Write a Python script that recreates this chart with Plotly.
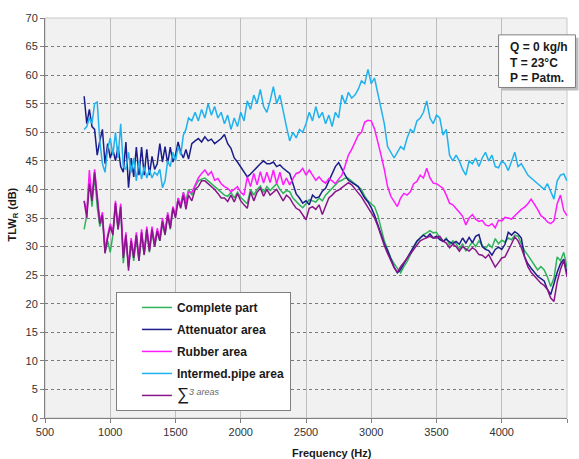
import plotly.graph_objects as go

# Frequency samples: 20 Hz spacing up to 1600 Hz, 25 Hz spacing above
freq_low = list(range(800, 1601, 20))
freq_high = list(range(1625, 4501, 25))
frequency_hz = freq_low + freq_high

# ---- Complete part ----
complete_low = [
    33.0, 35.5, 42.0, 37.0, 42.5, 37.0, 33.5, 35.0, 29.0, 31.0,
    29.0, 32.0, 37.0, 33.0, 36.5, 27.1, 31.5, 26.5, 30.5, 27.5,
    31.5, 27.5, 32.0, 28.5, 32.5, 29.0, 32.5, 30.0, 32.5, 31.0,
    34.0, 32.0, 35.5, 33.0, 36.5, 35.5, 38.5, 37.0, 39.5, 38.0,
    40.0,
]
complete_high = [
    39.0, 40.5, 41.5, 41.8,  42.0, 41.5, 41.0, 40.5,  40.0, 39.5, 39.0, 38.8,
    39.5, 38.5, 39.5, 38.6,  38.0, 37.5, 40.0, 39.0,  40.0, 40.6, 39.5, 40.5,
    39.8, 40.5, 41.0, 40.0,  39.3, 39.8, 39.6, 38.5,  37.8, 37.3, 36.8, 37.5,
    38.2, 38.0, 37.8, 38.5,  38.0, 39.0, 39.6, 40.2,  40.8, 41.4, 41.6, 42.0,
    41.9, 41.5, 41.0, 40.5,  40.0, 38.8, 38.0, 37.5,  37.0, 35.5, 33.2, 31.0,
    29.5, 28.0, 27.0, 26.3,  25.4, 26.5, 27.4, 28.6,  29.8, 30.8, 31.5, 32.1,
    32.4, 32.8, 32.4, 32.5,  31.5, 30.9, 31.5, 30.3,  31.0, 30.5, 29.5, 30.5,
    29.2, 30.0, 30.8, 30.0,  31.0, 30.2, 29.6, 30.4,  29.8, 31.4, 30.5, 31.1,
    30.8, 31.5, 31.2, 32.0,  31.8, 30.5, 29.3, 28.5,  27.6, 26.8, 25.9, 26.5,
    25.9, 24.7, 23.0, 24.5,  28.2, 27.5, 29.0, 26.4,
]

# ---- Attenuator area ----
attenuator_low = [
    56.3, 51.5, 54.0, 51.0, 50.5, 46.0, 48.5, 50.5, 44.5, 48.0,
    45.5, 47.0, 45.0, 47.5, 44.0, 43.0, 48.3, 40.3, 45.5, 42.2,
    47.4, 42.5, 47.4, 42.5, 47.0, 42.5, 45.8, 43.5, 44.5, 48.0,
    44.8, 47.5, 44.5, 47.4, 44.8, 46.0, 48.3, 46.5, 45.5, 47.0,
    45.3,
]
attenuator_high = [
    48.0, 48.5, 48.9, 48.3,  49.2, 48.5, 48.8, 48.0,  48.5, 48.9, 49.6, 48.0,
    47.2, 45.5, 44.8, 44.0,  43.0, 42.2, 42.7, 43.3,  44.0, 44.5, 45.0, 44.5,
    44.5, 44.8, 44.0, 44.3,  43.7, 43.2, 42.8, 41.0,  39.2, 38.5, 37.6, 38.0,
    37.3, 39.0, 38.5, 38.7,  39.7, 40.2, 41.5, 42.6,  44.0, 44.7, 43.5, 42.5,
    41.6, 41.2, 40.8, 40.5,  39.5, 38.5, 37.8, 36.8,  35.5, 33.8, 31.8, 30.5,
    29.3, 27.8, 26.4, 25.4,  26.0, 27.0, 28.0, 29.0,  30.2, 31.0, 31.5, 32.0,
    31.6, 32.2, 31.5, 31.8,  31.2, 30.9, 31.3, 30.8,  30.5, 30.9, 30.4, 31.5,
    30.6, 31.6, 30.7, 31.8,  32.1, 30.0, 29.5, 29.3,  28.5, 29.5, 29.9, 29.5,
    30.4, 32.5, 32.0, 32.6,  32.2, 31.5, 28.2, 27.0,  26.2, 25.5, 24.8, 24.4,
    24.0, 22.5, 21.6, 23.5,  25.5, 27.0, 27.8, 25.3,
]

# ---- Rubber area ----
rubber_low = [
    38.0, 36.0, 43.4, 38.5, 43.5, 38.5, 34.5, 36.0, 29.5, 32.0,
    34.0, 32.5, 38.0, 33.5, 37.5, 28.5, 32.5, 26.5, 31.5, 28.5,
    32.5, 28.0, 33.0, 29.0, 33.5, 29.5, 33.5, 30.5, 33.2, 31.5,
    35.0, 32.5, 36.0, 33.8, 37.0, 35.5, 38.5, 37.3, 39.5, 37.5,
    39.5,
]
rubber_high = [
    39.5, 40.8, 42.0, 42.8,  43.4, 42.5, 43.1, 41.6,  41.9, 41.0, 40.5, 40.2,
    39.6, 40.0, 40.5, 39.5,  39.0, 42.2, 40.5, 42.8,  40.8, 43.1, 41.1, 43.0,
    41.2, 43.4, 41.0, 43.0,  40.8, 42.0, 40.8, 41.9,  42.8, 43.0, 43.7, 42.5,
    43.4, 42.5, 41.6, 42.2,  41.5, 41.1, 41.9, 41.5,  41.0, 41.8, 42.5, 44.2,
    46.0, 47.0, 48.3, 49.5,  50.0, 51.8, 52.1, 52.0,  50.6, 48.5, 46.0, 43.5,
    40.5, 38.8, 37.8, 37.0,  38.5, 39.3, 39.0, 39.6,  41.0, 41.4, 42.5, 42.0,
    43.7, 42.0, 41.1, 41.0,  40.6, 40.2, 39.0, 37.6,  37.3, 36.7, 36.0, 35.3,
    33.8, 35.0, 35.6, 34.8,  34.4, 34.6, 33.8, 33.6,  34.0, 33.3, 34.6, 34.5,
    35.1, 35.0, 34.8, 35.4,  36.0, 36.5, 36.9, 37.5,  38.3, 37.5, 36.5, 35.4,
    35.0, 34.3, 34.0, 34.5,  37.5, 39.0, 36.3, 35.4,
]

# ---- Intermediate pipe area ----
pipe_low = [
    50.5, 51.0, 52.5, 51.5, 55.0, 55.3, 48.5, 44.5, 43.0, 47.0,
    49.0, 46.0, 50.0, 45.5, 51.5, 44.0, 43.5, 46.5, 43.0, 45.5,
    41.5, 45.0, 41.8, 44.0, 42.0, 43.5, 42.0, 43.0, 42.5, 43.5,
    40.3, 41.5, 45.0, 44.0, 46.5, 45.0, 47.5, 46.0, 49.5, 50.5,
    52.5,
]
pipe_high = [
    52.0, 53.5, 52.0, 54.0,  52.5, 55.0, 53.0, 54.5,  52.5, 53.5, 51.5, 53.0,
    50.5, 52.5, 51.0, 53.5,  52.0, 55.5, 54.0, 56.5,  55.0, 57.5, 54.5, 53.5,
    55.5, 58.0, 55.0, 56.5,  53.5, 51.0, 48.5, 50.0,  49.0, 50.5, 50.0, 51.5,
    53.5, 52.0, 54.5, 52.5,  53.5, 51.5, 53.0, 51.0,  53.5, 52.5, 56.5, 55.0,
    57.0, 56.0, 56.5, 57.5,  59.0, 58.5, 61.0, 58.5,  59.5, 57.0, 54.5, 51.5,
    47.5, 46.5, 45.5, 46.5,  47.5, 47.0, 49.0, 50.5,  50.0, 52.0, 52.5, 53.5,
    55.5, 52.5, 51.5, 53.0,  52.5, 49.5, 50.5, 46.0,  45.0, 46.0, 45.0, 43.5,
    42.5, 45.0, 44.5, 45.5,  44.0, 45.5, 46.5, 45.0,  46.0, 44.0, 43.8, 45.0,
    44.5, 43.3, 45.0, 46.5,  44.0, 44.5, 43.5, 42.5,  42.0, 41.5, 41.0, 40.5,
    40.0, 41.0, 39.5, 38.3,  41.5, 42.5, 42.7, 41.5,
]

# ---- Sum of the three areas ----
sum_low = [
    38.0, 35.0, 41.0, 38.0, 43.0, 38.0, 34.0, 35.5, 28.8, 31.5,
    33.5, 32.0, 37.6, 33.0, 37.0, 28.0, 32.0, 25.8, 31.0, 28.0,
    32.0, 27.5, 32.5, 28.6, 33.0, 29.2, 33.0, 30.0, 32.7, 31.0,
    34.4, 32.1, 35.5, 33.2, 36.7, 35.0, 38.0, 36.7, 39.0, 36.5,
    39.0,
]
sum_high = [
    38.0, 40.0, 40.5, 41.5,  41.5, 41.0, 40.5, 40.0,  39.3, 38.5, 38.5, 37.9,
    39.0, 37.8, 39.3, 38.0,  37.3, 36.7, 39.6, 38.0,  39.5, 40.2, 38.8, 40.0,
    39.0, 39.5, 40.0, 39.0,  38.0, 39.0, 38.5, 37.5,  36.7, 36.4, 35.5, 34.7,
    36.7, 37.0, 36.5, 37.3,  35.6, 37.0, 38.5, 39.0,  39.6, 39.9, 40.3, 40.8,
    41.2, 40.8, 40.0, 39.4,  38.7, 37.8, 37.0, 36.1,  35.0, 33.6, 31.7, 30.2,
    28.8, 27.5, 26.3, 25.5,  26.5, 27.2, 28.0, 28.8,  29.6, 30.4, 31.0, 31.3,
    31.6, 31.8, 31.5, 31.5,  31.8, 31.0, 30.6, 29.8,  30.4, 30.0, 29.2, 30.0,
    29.6, 29.2, 29.8, 29.4,  28.6, 28.5, 28.0, 28.6,  27.5, 26.4, 27.2, 28.0,
    28.2, 29.5, 30.5, 31.7,  31.0, 29.8, 28.0, 26.5,  25.5, 24.8, 24.2, 23.6,
    23.2, 22.5, 21.0, 20.4,  23.8, 26.0, 27.6, 24.7,
]

series_names = [
    "<b>Complete part</b>",
    "<b>Attenuator area</b>",
    "<b>Rubber area</b>",
    "<b>Intermed.pipe area</b>",
    "<span style='font-size:17px'>∑</span><sup>"
    "<span style='font-style:italic;color:#666666;font-size:9px'>3 areas</span></sup>",
]
series_values = [
    complete_low + complete_high,
    attenuator_low + attenuator_high,
    rubber_low + rubber_high,
    pipe_low + pipe_high,
    sum_low + sum_high,
]
series_colors = ["#2db35a", "#1c1c8a", "#ff1aff", "#1fb2ee", "#8a158a"]

for vals in series_values:
    assert len(vals) == len(frequency_hz)

FONT = "Liberation Sans, Arial, sans-serif"

# Plot-area geometry in page pixels
W, H = 579, 459
L, R, T, B = 45, 567.5, 15, 418


def px_x(x):
    return (x - L) / (R - L)


def px_y(y):
    return (B - y) / (B - T)


fig = go.Figure()
for name, vals, color in zip(series_names, series_values, series_colors):
    fig.add_trace(go.Scatter(
        x=frequency_hz, y=vals, mode="lines", name=name, legendgroup=name,
        line=dict(color=color, width=1.5),
    ))

fig.update_layout(
    width=W, height=H,
    margin=dict(l=L, r=W - R, t=T, b=H - B, pad=0),
    paper_bgcolor="white",
    plot_bgcolor="#f1f1f1",
    font=dict(family=FONT, size=11, color="#333333"),
    showlegend=True,
    legend=dict(
        x=px_x(116), y=px_y(291), xanchor="left", yanchor="top",
        bgcolor="white", bordercolor="#7f7f7f", borderwidth=1,
        font=dict(family=FONT, size=12, color="#1a1a1a"),
        tracegroupgap=3, indentation=20, itemwidth=30,
    ),
    xaxis=dict(
        range=[500, 4500], tickmode="linear", tick0=500, dtick=500,
        showgrid=True, gridcolor="#bdbdbd", gridwidth=1,
        showline=True, linecolor="#808080", linewidth=1,
        ticks="outside", ticklen=4, tickcolor="#808080",
        zeroline=False, tickfont=dict(size=11, color="#333333"),
    ),
    yaxis=dict(
        range=[0, 70], tickmode="linear", tick0=0, dtick=5,
        showgrid=True, gridcolor="#7a7a7a", gridwidth=1, griddash="dot",
        showline=True, linecolor="#808080", linewidth=1,
        ticks="outside", ticklen=4, tickcolor="#808080",
        zeroline=False, tickfont=dict(size=11, color="#333333"),
    ),
)

# Light frame around the top and right of the plotting area
fig.add_shape(type="rect", xref="paper", yref="paper", x0=0, x1=1, y0=0, y1=1,
              line=dict(color="#c8c8c8", width=1), fillcolor="rgba(0,0,0,0)",
              layer="below")

# Operating-condition box with a drop shadow
fig.add_shape(type="rect", xref="paper", yref="paper",
              x0=px_x(502), x1=px_x(579), y0=px_y(88), y1=px_y(35),
              line=dict(width=0), fillcolor="#bdbdbd", layer="above")
fig.add_shape(type="rect", xref="paper", yref="paper",
              x0=px_x(499), x1=px_x(576), y0=px_y(85), y1=px_y(32),
              line=dict(color="#7f7f7f", width=1), fillcolor="white", layer="above")
fig.add_annotation(
    xref="paper", yref="paper", x=px_x(508), y=px_y(35),
    xanchor="left", yanchor="top", align="left", showarrow=False,
    text="<b>Q = 0 kg/h<br>T = 23°C<br>P = Patm.</b>",
    font=dict(family=FONT, size=12, color="#1a1a1a"),
)

# Axis titles
fig.add_annotation(
    xref="paper", yref="paper", x=px_x(332), y=px_y(453),
    xanchor="center", yanchor="middle", showarrow=False,
    text="<b>Frequency (Hz)</b>", font=dict(family=FONT, size=11, color="#1a1a1a"),
)
fig.add_annotation(
    xref="paper", yref="paper", x=px_x(12), y=px_y(213),
    xanchor="center", yanchor="middle", showarrow=False, textangle=-90,
    text="<b>TLW<sub>R</sub> (dB)</b>", font=dict(family=FONT, size=11, color="#1a1a1a"),
)

fig.write_html("out.html")
